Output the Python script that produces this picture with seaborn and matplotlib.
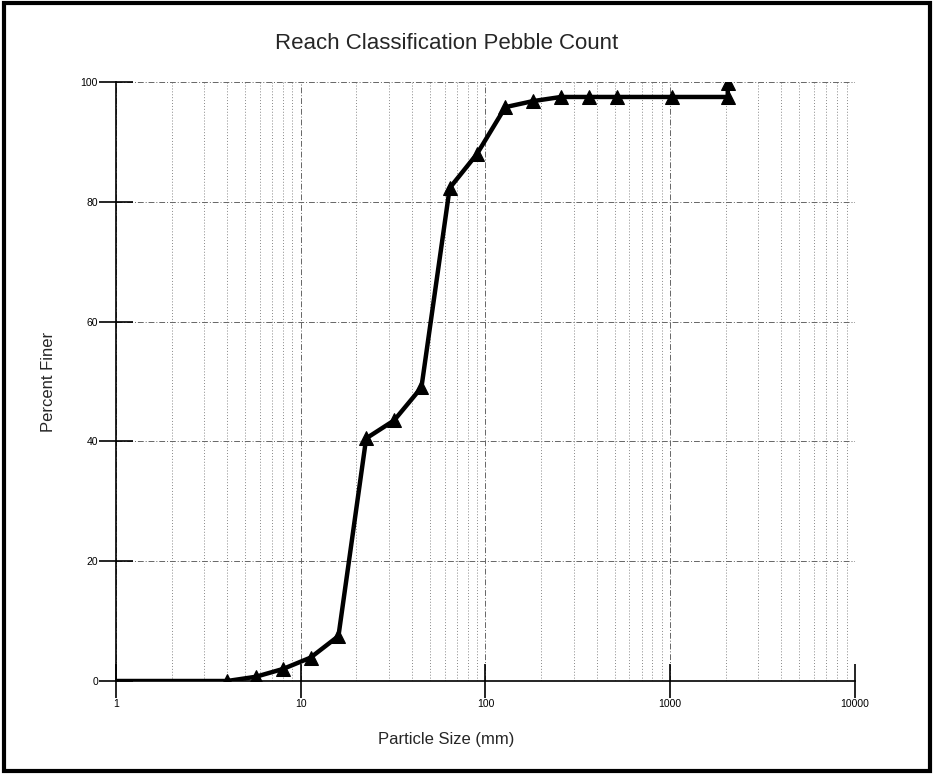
import numpy as np
import pandas as pd
import matplotlib
matplotlib.use("Agg")
import matplotlib.pyplot as plt
import seaborn as sns
from matplotlib.ticker import LogLocator, FixedLocator, NullFormatter
from matplotlib.patches import Rectangle

sizes_mm = [0.5, 4, 5.7, 8, 11.3, 16, 22.6, 32, 45, 64, 90, 128, 180, 256, 362, 512, 1024, 2048, 2048]
percent_finer = [0, 0, 0.7, 2.0, 3.9, 7.5, 40.5, 43.5, 49.0, 82.3, 88.0, 95.8, 96.8, 97.5, 97.5, 97.5, 97.5, 97.5, 99.8]
x_ticks = [1, 10, 100, 1000, 10000]
x_tick_labels = ["1", "10", "100", "1000", "10000"]
y_ticks = [0, 20, 40, 60, 80, 100]
y_tick_labels = ["0", "20", "40", "60", "80", "100"]

df = pd.DataFrame({"size": sizes_mm, "finer": percent_finer})

sns.set_style("white")
plt.rcParams["font.family"] = ["Liberation Sans", "DejaVu Sans"]

fig = plt.figure(figsize=(9.34, 7.75), dpi=100)
ax = fig.add_axes([0.1242, 0.1213, 0.9154 - 0.1242, 0.8942 - 0.1213])

ax.set_xscale("log")

ax.xaxis.set_major_locator(FixedLocator(x_ticks))
ax.xaxis.set_minor_locator(LogLocator(base=10, subs=np.arange(2, 10)))
ax.xaxis.set_minor_formatter(NullFormatter())
ax.grid(True, which="major", color="#666666", linestyle=(0, (6, 2, 1, 2)), linewidth=0.7)
ax.grid(True, which="minor", axis="x", color="#888888", linestyle=(0, (1, 2)), linewidth=0.7)

sns.lineplot(data=df, x="size", y="finer", sort=False, estimator=None, ax=ax,
             color="black", linewidth=3.2, marker="^", markersize=10,
             markeredgecolor="black", markerfacecolor="black")

ax.set_xlim(1, 10000)
ax.set_ylim(0, 100)
ax.set_xticks(x_ticks)
ax.set_xticklabels(x_tick_labels)
ax.set_yticks(y_ticks)
ax.set_yticklabels(y_tick_labels)

for side in ["top", "right"]:
    ax.spines[side].set_visible(False)
for side in ["left", "bottom"]:
    ax.spines[side].set_color("black")
    ax.spines[side].set_linewidth(1.2)
    ax.spines[side].set_zorder(5)

ax.tick_params(axis="both", which="major", direction="inout", length=24, width=1.2,
               labelsize=7.5, colors="black", bottom=True, left=True)
ax.tick_params(axis="x", which="major", pad=1)
ax.tick_params(axis="y", which="major", pad=1)
ax.tick_params(axis="x", which="minor", length=0, bottom=False)

ax.set_xlabel("Particle Size (mm)", fontsize=12, labelpad=14)
ax.xaxis.set_label_coords(0.447, -0.085)
ax.set_ylabel("Percent Finer", fontsize=12, labelpad=18)
ax.set_title("Reach Classification Pebble Count", fontsize=16, pad=24, x=0.447)

fig.patches.append(Rectangle((0.004, 0.005), 0.992, 0.991, transform=fig.transFigure,
                             fill=False, edgecolor="black", linewidth=3))

fig.savefig("out.png", dpi=100)
